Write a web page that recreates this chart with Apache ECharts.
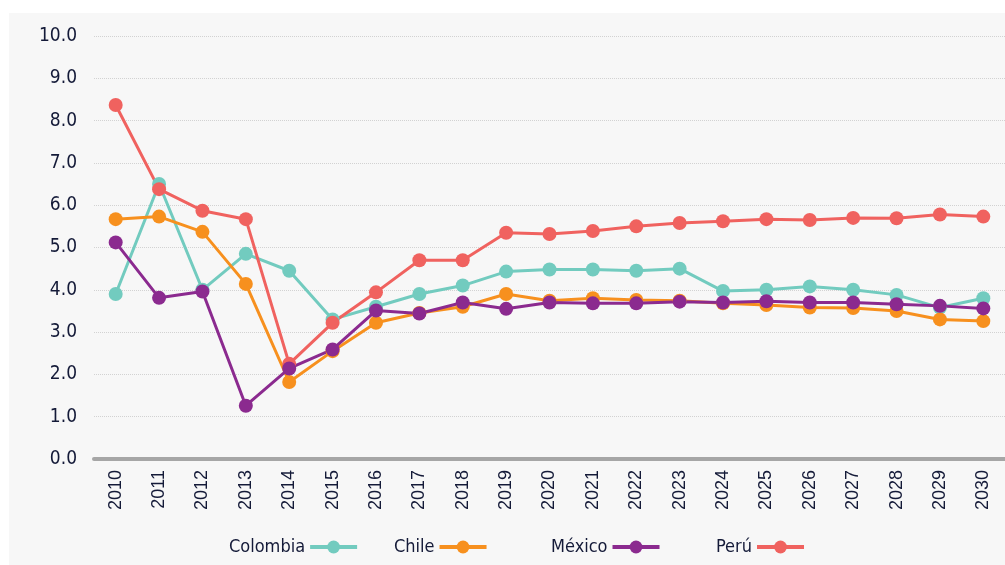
<!DOCTYPE html>
<html>
<head>
<meta charset="utf-8">
<script src="https://cdn.jsdelivr.net/npm/echarts@6/dist/echarts.min.js"></script>
<style>
  html, body { margin: 0; padding: 0; background: #fff; }
  #chart { width: 1005px; height: 565px; }
</style>
</head>
<body>
<div id="chart"></div>
<script>
// 数据
const years = ["2010", "2011", "2012", "2013", "2014", "2015", "2016", "2017", "2018", "2019", "2020",
  "2021", "2022", "2023", "2024", "2025", "2026", "2027", "2028", "2029", "2030"];
const colombia = [3.9, 6.5, 4.0, 4.85, 4.45, 3.3, 3.6, 3.9, 4.1, 4.43, 4.48, 4.48, 4.45, 4.5, 3.97, 4.0, 4.08, 4.0, 3.88, 3.58, 3.8];
const chile = [5.67, 5.73, 5.37, 4.14, 1.82, 2.55, 3.22, 3.45, 3.6, 3.9, 3.74, 3.8, 3.76, 3.74, 3.68, 3.64, 3.58, 3.57, 3.5, 3.3, 3.26];
const mexico = [5.12, 3.81, 3.96, 1.26, 2.14, 2.59, 3.51, 3.44, 3.7, 3.55, 3.7, 3.68, 3.68, 3.72, 3.7, 3.73, 3.7, 3.7, 3.66, 3.62, 3.56];
const peru = [8.37, 6.38, 5.87, 5.67, 2.25, 3.22, 3.94, 4.7, 4.7, 5.35, 5.32, 5.39, 5.5, 5.58, 5.62, 5.67, 5.65, 5.7, 5.69, 5.78, 5.73];
const yTicks = [0, 1, 2, 3, 4, 5, 6, 7, 8, 9, 10];

const FONT = '"DejaVu Sans Condensed", "Liberation Sans Narrow", sans-serif';
const TEXT = '#141a38';

function makeSeries(name, data, color) {
  return {
    name: name,
    type: 'line',
    data: data,
    symbol: 'circle',
    symbolSize: 14,
    color: color,
    lineStyle: { width: 3, color: color },
    itemStyle: { color: color },
    emphasis: { disabled: true }
  };
}

// 每个图例单独定位，间距不均匀
function makeLegend(name, left) {
  return {
    data: [name],
    left: left,
    top: 533,
    align: 'right',
    itemWidth: 47,
    itemHeight: 16,
    lineStyle: { width: 4 },
    textStyle: { fontFamily: FONT, fontSize: 18, color: TEXT },
    selectedMode: false
  };
}

let myChart = echarts.init(document.getElementById('chart'), null, { renderer: 'canvas' });
let option = {
  backgroundColor: '#ffffff',
  animation: false,
  graphic: [{
    type: 'rect',
    z: -10,
    shape: { x: 9, y: 13, width: 1000, height: 560 },
    style: { fill: '#f7f7f7' }
  }],
  legend: [
    makeLegend('Colombia', 224),
    makeLegend('Chile', 389),
    makeLegend('México', 546),
    makeLegend('Perú', 711)
  ],
  grid: { left: 94, right: 0, top: 36, bottom: 106 },
  xAxis: {
    type: 'category',
    data: years,
    boundaryGap: true,
    axisLine: { lineStyle: { color: '#a6a6a6', width: 4 } },
    axisTick: { show: false },
    axisLabel: { rotate: 90, margin: 11, fontFamily: '"Liberation Sans", Arial, sans-serif', fontSize: 18, color: TEXT }
  },
  yAxis: {
    type: 'value',
    min: yTicks[0],
    max: yTicks[yTicks.length - 1],
    interval: 1,
    axisLine: { show: false },
    axisTick: { show: false },
    splitLine: { lineStyle: { color: '#d2d2d2', type: 'dotted', width: 1 } },
    axisLabel: {
      margin: 17,
      fontFamily: FONT,
      fontSize: 19,
      color: TEXT,
      formatter: function (v) { return v.toFixed(1); }
    }
  },
  series: [
    makeSeries('Colombia', colombia, '#72cbbf'),
    makeSeries('Chile', chile, '#f7901e'),
    makeSeries('Perú', peru, '#f0625f'),
    makeSeries('México', mexico, '#8b2a8f')
  ]
};
myChart.setOption(option);
</script>
</body>
</html>
